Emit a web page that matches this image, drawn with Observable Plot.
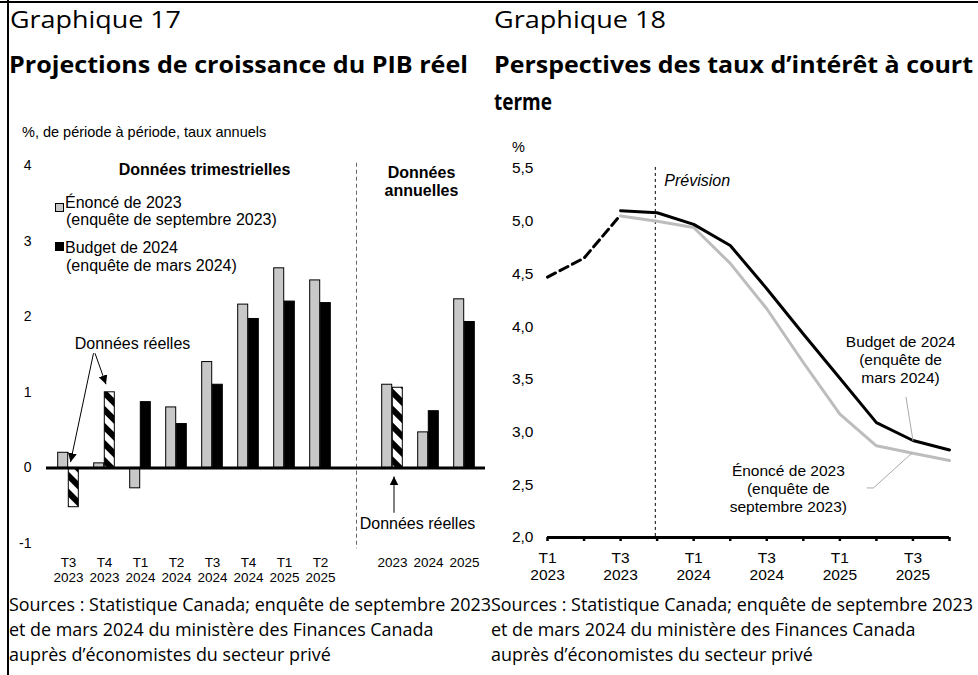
<!DOCTYPE html>
<html><head><meta charset="utf-8">
<script src="https://cdn.jsdelivr.net/npm/d3@7"></script>
<script src="https://cdn.jsdelivr.net/npm/@observablehq/plot@0.6"></script>
<style>
body{margin:0;background:#fff;}
#root{position:relative;width:978px;height:675px;overflow:hidden;background:#fff;}
.abs{position:absolute;white-space:nowrap;display:inline-block;line-height:1;}
.seg{font-family:"Open Sans",sans-serif;color:#000;}
.ar{font-family:"Liberation Sans",Arial,sans-serif;color:#000;}
svg{overflow:visible;}
</style></head>
<body><div id="root"></div>
<script>
// ---------- Graphique 17 : croissance du PIB réel ----------
const g17Quarters = ["T3 2023","T4 2023","T1 2024","T2 2024","T3 2024","T4 2024","T1 2025","T2 2025"];
const g17Years = ["2023","2024","2025"];
const g17Gap = "gap";
const g17Enonce = [0.20, 0.06, -0.27, 0.80, 1.40, 2.16, 2.64, 2.48, 1.10, 0.47, 2.23];
const g17Budget = [-0.52, 1.00, 0.87, 0.58, 1.10, 1.97, 2.20, 2.18, 1.06, 0.75, 1.93];
const g17Reel = ["T3 2023","T4 2023","2023"];
const g17YTicks = [-1, 0, 1, 2, 3, 4];

// ---------- Graphique 18 : taux d'intérêt à court terme ----------
const g18Quarters = ["T1 2023","T2 2023","T3 2023","T4 2023","T1 2024","T2 2024","T3 2024","T4 2024","T1 2025","T2 2025","T3 2025","T4 2025"];
const g18TickLabels = ["T1\n2023","","T3\n2023","","T1\n2024","","T3\n2024","","T1\n2025","","T3\n2025",""];
const g18Reel   = [4.47, 4.65, 5.06, null, null, null, null, null, null, null, null, null];
const g18Enonce = [null, null, 5.05, 5.00, 4.94, 4.60, 4.17, 3.66, 3.17, 2.87, 2.80, 2.73];
const g18Budget = [null, null, 5.10, 5.08, 4.97, 4.77, 4.36, 3.93, 3.51, 3.09, 2.92, 2.83];
const g18YTicks = [2, 2.5, 3, 3.5, 4, 4.5, 5, 5.5];

const root = document.getElementById("root");
function addText(cls, txt, left, top, size, extra = {}) {
  const d = document.createElement("div");
  d.className = "abs " + cls;
  d.textContent = txt;
  d.style.left = left + "px"; d.style.top = top + "px"; d.style.fontSize = size + "px";
  Object.assign(d.style, extra);
  root.appendChild(d);
  return d;
}
function fit(el, w) {
  const m = el.getBoundingClientRect().width;
  el.style.transformOrigin = "0 0";
  el.style.transform = `scaleX(${w / m})`;
}

// ---------- Chart 17 ----------
const cats17 = [...g17Quarters, ...g17Years];
const rows17 = cats17.map((c, i) => ({cat: c, enonce: g17Enonce[i], budget: g17Budget[i], reel: g17Reel.includes(c)}));
const domain17 = [...g17Quarters, g17Gap, ...g17Years];
const W1 = 490, H1 = 450, mL1 = 46, mR1 = 5, mT1 = 25, mB1 = 47;
const step = (W1 - mL1 - mR1) / domain17.length;
const barW = 10.6, half = step / 2, outer = half - barW;

const ann17 = [
  {x: "T1 2024", y: 1.634, t: "Données réelles"},
  {x: "2024", y: -0.74, t: "Données réelles"}
];
const chart17 = Plot.plot({
  width: W1, height: H1, marginLeft: mL1, marginRight: mR1, marginTop: mT1, marginBottom: mB1,
  style: {fontFamily: "Liberation Sans, Arial, sans-serif", fontSize: "14px", color: "#000", background: "transparent", overflow: "visible"},
  x: {type: "band", domain: domain17, padding: 0, axis: null},
  y: {domain: [-1, 4], axis: null},
  marks: [
    Plot.axisY({ticks: g17YTicks, tickSize: 0, tickPadding: 15, tickFormat: d => String(d), fontSize: 14}),
    Plot.axisX({ticks: cats17, tickSize: 0, tickPadding: 12, tickFormat: c => c.replace(" ", "\n"), lineHeight: 1.15, fontSize: 13.5}),
    Plot.ruleX([g17Gap], {y1: 4.03, y2: -1.07, stroke: "#666", strokeDasharray: "4,3", strokeWidth: 1}),
    Plot.barY(rows17, {x: "cat", y: "enonce", fill: "#c8c8c8", stroke: "#000", strokeWidth: 1, insetLeft: outer, insetRight: half}),
    Plot.barY(rows17.filter(d => !d.reel), {x: "cat", y: "budget", fill: "#000", stroke: "#000", strokeWidth: 1, insetLeft: half, insetRight: outer}),
    Plot.barY(rows17.filter(d => d.reel), {x: "cat", y: "budget", fill: "url(#hatch17)", stroke: "#000", strokeWidth: 1, insetLeft: half, insetRight: outer}),
    Plot.ruleY([0], {strokeWidth: 3}),
    Plot.text([{x: "T3 2024", y: 3.94, t: "Données trimestrielles"}], {x: "x", y: "y", text: "t", dx: -8, fontWeight: "bold", fontSize: 16}),
    Plot.text([{x: "2024", y: 3.79, t: "Données\nannuelles"}], {x: "x", y: "y", text: "t", dx: -7, fontWeight: "bold", fontSize: 16, lineHeight: 1.15}),
    Plot.text(ann17.slice(0, 1), {x: "x", y: "y", text: "t", dx: -8, fontSize: 16}),
    Plot.text(ann17.slice(1), {x: "x", y: "y", text: "t", dx: -11, fontSize: 16})
  ]
});
chart17.style.position = "absolute"; chart17.style.left = "0px"; chart17.style.top = "140px";
root.appendChild(chart17);
{
  const svg = d3.select(chart17);
  const defs = svg.insert("defs", ":first-child");
  const pat = defs.append("pattern").attr("id", "hatch17").attr("patternUnits", "userSpaceOnUse")
    .attr("width", 12).attr("height", 12).attr("patternTransform", "rotate(-45)");
  pat.append("rect").attr("width", 12).attr("height", 12).attr("fill", "#fff");
  pat.append("rect").attr("width", 6).attr("height", 12).attr("fill", "#000");
  defs.append("marker").attr("id", "arr17").attr("viewBox", "0 0 10 10").attr("refX", 10).attr("refY", 5)
    .attr("markerUnits", "userSpaceOnUse").attr("markerWidth", 9).attr("markerHeight", 9).attr("orient", "auto")
    .append("path").attr("d", "M0,0L10,5L0,10z").attr("fill", "#000");
  const sx = chart17.scale("x"), sy = chart17.scale("y");
  const px = (c, off) => sx.apply(c) + sx.bandwidth / 2 + off;
  const arrows = [
    [["T3 2023", 25.5, 1.51], ["T3 2023", 2.5, 0.07]],
    [["T4 2023", -9, 1.51], ["T4 2023", 2, 1.10]],
    [["2023", 2, -0.60], ["2023", 2, -0.12]]
  ];
  const g = svg.append("g");
  for (const [a, b] of arrows) {
    g.append("line").attr("x1", px(a[0], a[1])).attr("y1", sy.apply(a[2]))
      .attr("x2", px(b[0], b[1])).attr("y2", sy.apply(b[2]))
      .attr("stroke", "#000").attr("stroke-width", 1).attr("marker-end", "url(#arr17)");
  }
}

// ---------- Chart 18 ----------
const toRows = arr => arr.map((v, i) => ({i, v})).filter(d => d.v != null);
const W2 = 488, H2 = 450, mL2 = 57, mR2 = 29, mT2 = 28, mB2 = 53;
const chart18 = Plot.plot({
  width: W2, height: H2, marginLeft: mL2, marginRight: mR2, marginTop: mT2, marginBottom: mB2,
  style: {fontFamily: "Liberation Sans, Arial, sans-serif", fontSize: "15.5px", color: "#000", background: "transparent", overflow: "visible"},
  x: {domain: [0, g18Quarters.length - 1], axis: null},
  y: {domain: [2, 5.5], axis: null},
  marks: [
    Plot.axisY({ticks: g18YTicks, tickSize: 0, tickPadding: 14, tickFormat: d => d.toFixed(1).replace(".", ","), fontSize: 15.5}),
    Plot.axisX({ticks: d3.range(g18Quarters.length), tickSize: 4, strokeWidth: 2.5, text: null}),
    Plot.axisX({ticks: d3.range(g18Quarters.length), tickSize: 0, tickPadding: 13, tickFormat: i => g18TickLabels[i], lineHeight: 1.12, fontSize: 15.5}),
    Plot.ruleX([2.95], {y1: 5.51, y2: 2, stroke: "#000", strokeDasharray: "3,3", strokeWidth: 1}),
    Plot.text([{x: 2.95, y: 5.386, t: "Prévision"}], {x: "x", y: "y", text: "t", dx: 9, textAnchor: "start", fontStyle: "italic", fontSize: 16}),
    Plot.line(toRows(g18Enonce), {x: "i", y: "v", stroke: "#bdbdbd", strokeWidth: 3}),
    Plot.line(toRows(g18Reel), {x: "i", y: "v", stroke: "#000", strokeWidth: 3, strokeDasharray: "9,5"}),
    Plot.line(toRows(g18Budget), {x: "i", y: "v", stroke: "#000", strokeWidth: 3}),
    Plot.ruleY([2], {strokeWidth: 3}),
    Plot.line([{x: 9.81, y: 3.33}, {x: 10, y: 2.92}], {x: "x", y: "y", stroke: "#aaa", strokeWidth: 1}),
    Plot.line([{x: 8.75, y: 2.47}, {x: 8.92, y: 2.47}, {x: 9.97, y: 2.80}], {x: "x", y: "y", stroke: "#aaa", strokeWidth: 1}),
    Plot.text([{x: 9.66, y: 3.69, t: "Budget de 2024\n(enquête de\nmars 2024)"}], {x: "x", y: "y", text: "t", fontSize: 15.5, lineHeight: 1.17}),
    Plot.text([{x: 6.59, y: 2.465, t: "Énoncé de 2023\n(enquête de\nseptembre 2023)"}], {x: "x", y: "y", text: "t", fontSize: 15.5, lineHeight: 1.17})
  ]
});
chart18.style.position = "absolute"; chart18.style.left = "490px"; chart18.style.top = "140px";
root.appendChild(chart18);

// ---------- Titles, subtitles, legend, sources ----------
fit(addText("seg", "Graphique 17", 10, 8, 23), 171);
fit(addText("seg", "Graphique 18", 494, 8, 23), 172);
fit(addText("seg", "Projections de croissance du PIB réel", 9, 52, 24, {fontWeight: "bold"}), 459);
fit(addText("seg", "Perspectives des taux d’intérêt à court", 494, 52, 24, {fontWeight: "bold"}), 479);
fit(addText("seg", "terme", 494, 89, 24, {fontWeight: "bold"}), 58);
addText("ar", "%, de période à période, taux annuels", 22, 125, 14.5);
addText("ar", "%", 512, 140, 14.5);

// legend (chart 17)
function sq(left, top, fill) {
  const d = document.createElement("div");
  Object.assign(d.style, {position: "absolute", left: left + "px", top: top + "px", width: "7px", height: "7px", background: fill, border: "1px solid #000"});
  root.appendChild(d);
}
sq(55, 203, "#c8c8c8");
addText("ar", "Énoncé de 2023", 65, 195, 16);
addText("ar", "(enquête de septembre 2023)", 66, 212, 16);
sq(55, 242, "#000");
addText("ar", "Budget de 2024", 65, 240, 16);
addText("ar", "(enquête de mars 2024)", 66, 258, 16);

// sources
const src = ["Sources : Statistique Canada; enquête de septembre 2023", "et de mars 2024 du ministère des Finances Canada", "auprès d’économistes du secteur privé"];
for (const x0 of [9, 491]) {
  const els = src.map((s, k) => addText("seg", s, x0, 595 + 25 * k, 18));
  const m = els[0].getBoundingClientRect().width;
  const k = 482 / m;
  els.forEach(e => { e.style.transformOrigin = "0 0"; e.style.transform = `scaleX(${k})`; });
}

// frame lines
const topLine = document.createElement("div");
Object.assign(topLine.style, {position: "absolute", left: "0px", top: "1px", width: "978px", height: "2px", background: "#000"});
root.appendChild(topLine);
const leftLine = document.createElement("div");
Object.assign(leftLine.style, {position: "absolute", left: "7px", top: "0px", width: "2px", height: "675px", background: "#000"});
root.appendChild(leftLine);
</script></body></html>
